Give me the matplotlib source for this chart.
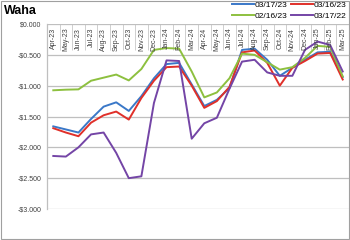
import matplotlib.pyplot as plt
from matplotlib.ticker import FuncFormatter, MultipleLocator
from matplotlib.patches import Rectangle

plt.rcParams['font.family'] = ['Liberation Sans', 'DejaVu Sans']

# Hónapok
months = ['Apr-23', 'May-23', 'Jun-23', 'Jul-23', 'Aug-23', 'Sep-23', 'Oct-23', 'Nov-23',
          'Dec-23', 'Jan-24', 'Feb-24', 'Mar-24', 'Apr-24', 'May-24', 'Jun-24', 'Jul-24',
          'Aug-24', 'Sep-24', 'Oct-24', 'Nov-24', 'Dec-24', 'Jan-25', 'Feb-25', 'Mar-25']

# Görbék
s_031723 = [-1.66, -1.71, -1.76, -1.54, -1.34, -1.27, -1.41, -1.17, -0.88, -0.65, -0.63, -0.98,
            -1.33, -1.23, -1.04, -0.42, -0.40, -0.58, -0.84, -0.71, -0.58, -0.46, -0.45, -0.86]
s_031623 = [-1.69, -1.76, -1.82, -1.60, -1.48, -1.42, -1.55, -1.20, -0.92, -0.70, -0.69, -1.00,
            -1.36, -1.25, -1.02, -0.46, -0.43, -0.63, -1.00, -0.71, -0.60, -0.48, -0.47, -0.90]
s_021623 = [-1.075, -1.065, -1.06, -0.92, -0.87, -0.82, -0.915, -0.73, -0.42, -0.39, -0.40, -0.77,
            -1.19, -1.11, -0.88, -0.48, -0.50, -0.62, -0.74, -0.70, -0.55, -0.355, -0.37, -0.85]
s_031722 = [-2.14, -2.15, -2.00, -1.79, -1.76, -2.09, -2.50, -2.47, -1.28, -0.59, -0.60, -1.86,
            -1.61, -1.52, -1.05, -0.61, -0.58, -0.785, -0.84, -0.84, -0.42, -0.285, -0.34, -0.77]

series = [('03/17/23', s_031723, '#3a78c8'),
          ('03/16/23', s_031623, '#e0302a'),
          ('02/16/23', s_021623, '#8dc03f'),
          ('03/17/22', s_031722, '#7445a6')]

fig = plt.figure(figsize=(3.5, 2.4), dpi=100)
ax = fig.add_axes([47 / 350, 1 - 209 / 240, 302 / 350, 185 / 240])

x = list(range(len(months)))
lines = {}
for name, vals, col in series:
    lines[name], = ax.plot(x, vals, color=col, lw=1.4, label=name)

ax.set_xlim(-0.5, len(months) - 0.5)
ax.set_ylim(-3.0, 0.0)
ax.yaxis.set_major_locator(MultipleLocator(0.5))
ax.yaxis.set_major_formatter(FuncFormatter(
    lambda v, p: ('-$%.3f' % abs(v)) if v < -1e-9 else '$%.3f' % abs(v)))
ax.tick_params(axis='y', labelsize=5, length=0, pad=4, colors='#404040')
ax.grid(axis='y', color='#bfbfbf', lw=0.9)
ax.set_axisbelow(True)

# Kategória tengely felül, a feliratok lefelé lógnak
ax.set_xticks([i + 0.5 for i in x[:-1]])
ax.tick_params(axis='x', which='major', bottom=False, top=True, direction='in',
               length=19, width=0.6, color='#c8c8c8', labelbottom=False)
for i, m in enumerate(months):
    ax.text(i, -0.06, m, rotation=90, ha='center', va='top', fontsize=5, color='#404040')

for s in ['top', 'right', 'bottom']:
    ax.spines[s].set_visible(False)
ax.spines['left'].set_color('#bfbfbf')
ax.spines['left'].set_linewidth(0.9)

fig.text(0.01, 0.955, 'Waha', fontsize=9, fontweight='bold', va='center')

order = ['03/17/23', '02/16/23', '03/16/23', '03/17/22']
fig.legend([lines[n] for n in order], order, ncol=2, frameon=False, fontsize=6,
           loc='upper right', bbox_to_anchor=(1.012, 1.025), handlelength=2.6,
           handletextpad=0.1, columnspacing=0.5, labelspacing=0.3)

fig.patches.append(Rectangle((0.002, 0.003), 0.994, 0.993, transform=fig.transFigure,
                             fill=False, edgecolor='#a0a0a0', lw=0.8))

fig.savefig('out.png', dpi=100)
